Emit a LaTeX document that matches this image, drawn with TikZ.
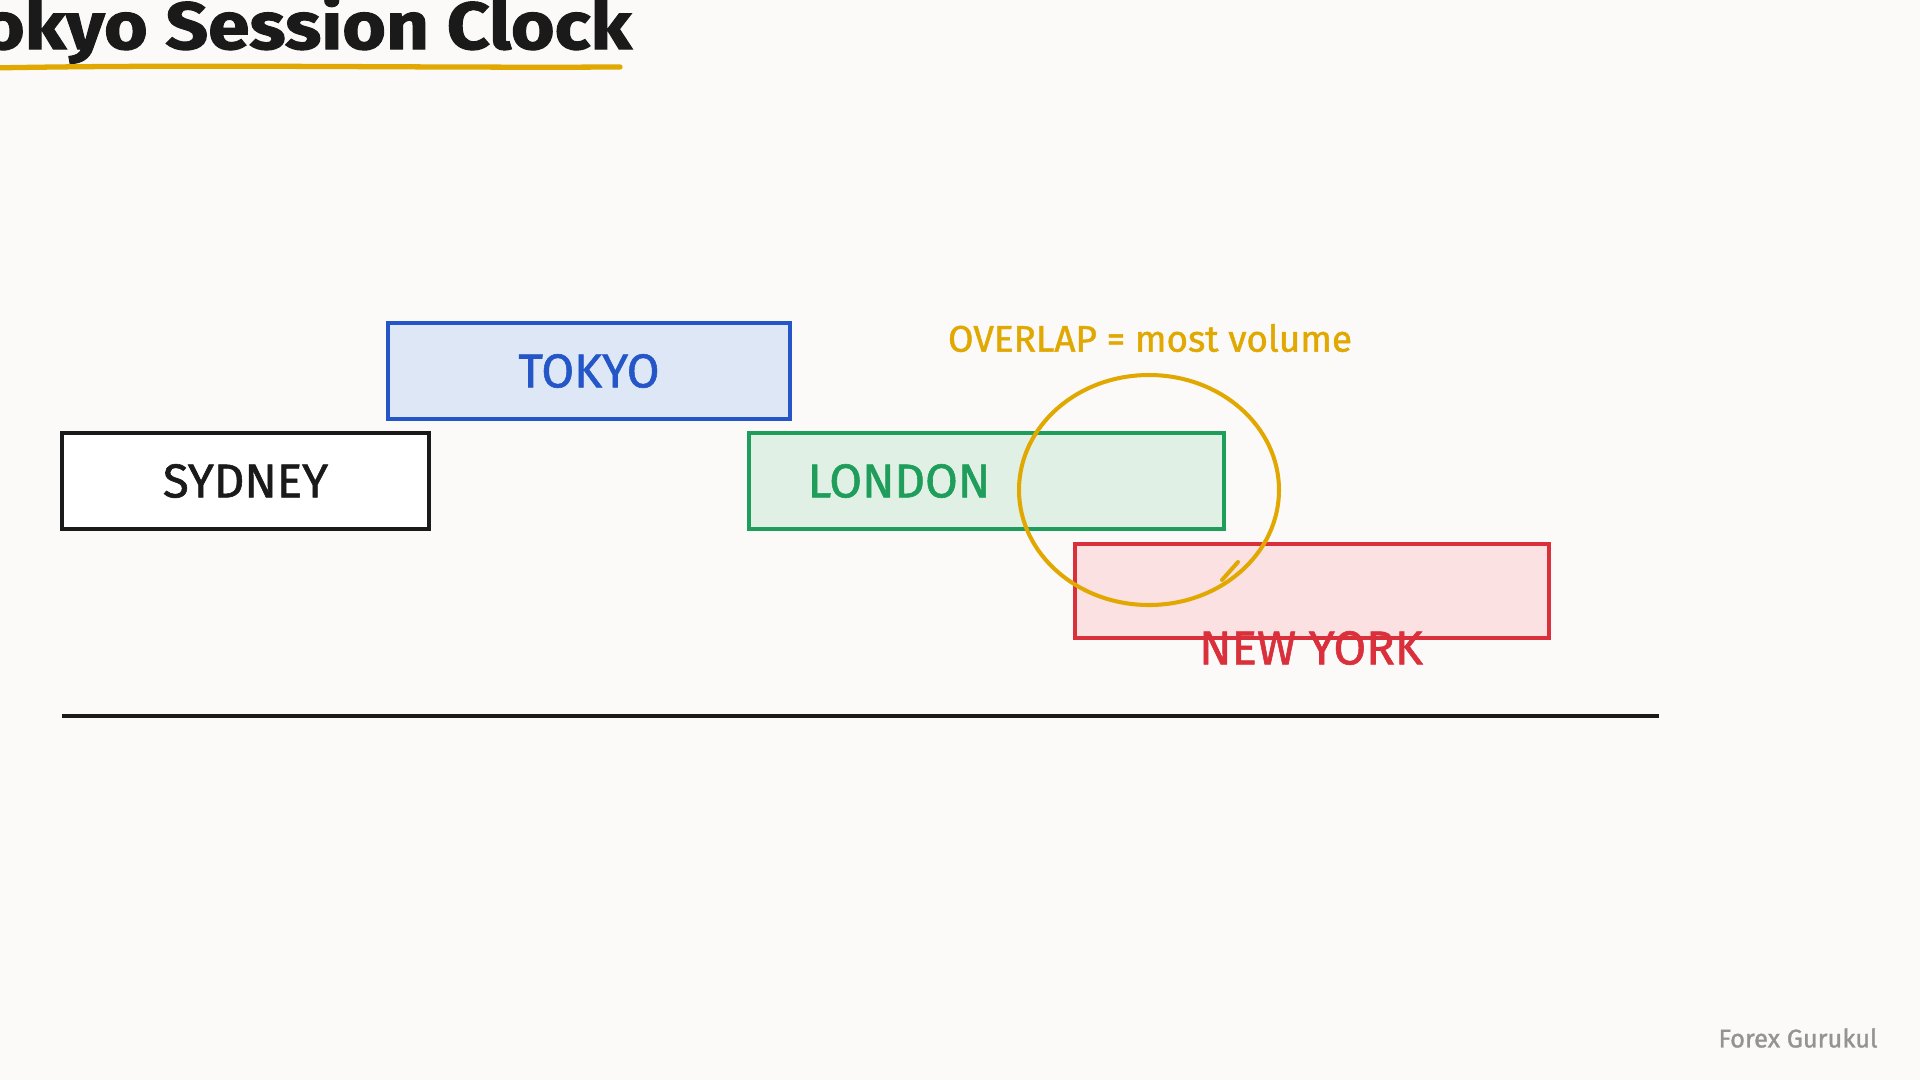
\documentclass[tikz,border=0pt]{standalone}
\usepackage{fontspec}
\setmainfont{Fira Sans}
\newfontfamily\labfont[FakeBold=1.2]{Fira Sans}
\newfontfamily\titlefont[FakeBold=1.5]{Fira Sans Bold}
\definecolor{bg}{HTML}{FBFAF8}
\definecolor{tkB}{HTML}{2456C8}
\definecolor{tkF}{HTML}{DDE7F6}
\definecolor{lnB}{HTML}{1E9E5A}
\definecolor{lnF}{HTML}{E0F0E4}
\definecolor{nyB}{HTML}{D9303C}
\definecolor{nyF}{HTML}{FBE1E1}
\definecolor{gold}{HTML}{E0A800}
\definecolor{ink}{HTML}{1A1A1A}
\newcommand{\pxfont}[1]{\fontsize{#1}{#1}\selectfont}
\tikzset{
  session/.style={rectangle, line width=2.3pt, minimum height=96*0.569pt, inner sep=0pt},
  lab/.style={inner sep=0pt, anchor=center},
}
\begin{document}
\begin{tikzpicture}[x=0.02cm,y=-0.02cm]
\path[fill=bg,use as bounding box] (0,0) rectangle (1920,1080);
\begin{scope}
\clip (0,0) rectangle (1920,1080);
% title
\node[lab, anchor=base east, text=ink] (title) at (632,49) {\scalebox{1.12}[1]{\pxfont{38}\titlefont Tokyo Session Clock}};
\draw[gold, line width=3pt, line cap=round] (-10,68) .. controls (200,64) and (400,68) .. (620,67);
\end{scope}
% boxes
\node[session, draw=tkB, fill=tkF, minimum width=402*0.569pt] (tokyo) at (589,371) {};
\node[lab, text=tkB] (tokyoT) at (589,371) {\pxfont{27}\labfont TOKYO};
\node[session, draw=ink, fill=white, minimum width=367*0.569pt] (sydney) at (245.5,481) {};
\node[lab, text=ink] (sydneyT) at (245.5,481) {\pxfont{27}\labfont SYDNEY};
\node[session, draw=lnB, fill=lnF, minimum width=475*0.569pt] (london) at (986.5,481) {};
\node[lab, text=lnB] (londonT) at (899,481) {\pxfont{27}\labfont LONDON};
\node[session, draw=nyB, fill=nyF, minimum width=474*0.569pt, minimum height=94*0.569pt] (newyork) at (1312,591) {};
\node[lab, text=nyB] (newyorkT) at (1311,648) {\pxfont{27}\labfont NEW YORK};
% overlap
\node[lab, text=gold] (overlapT) at (1150,338) {\pxfont{21}\labfont OVERLAP = most volume};
\draw[gold, line width=2.3pt] (1149,490) ellipse [x radius=130, y radius=115];
\draw[gold, line width=2.3pt, line cap=round] (1238,562) -- (1222,580);
% time axis
\draw[ink, line width=2.3pt] (62,716) -- (1659,716);
% footer
\node[lab, text=gray!85] (footer) at (1798,1038) {\pxfont{14.5}\labfont Forex Gurukul};
\end{tikzpicture}
\end{document}
